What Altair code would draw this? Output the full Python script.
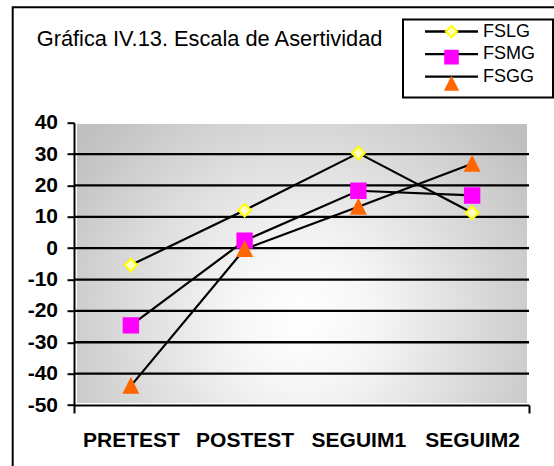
import altair as alt
import pandas as pd

# --- data -------------------------------------------------------------
etapas = ["PRETEST", "POSTEST", "SEGUIM1", "SEGUIM2"]
series = ["FSLG", "FSMG", "FSGG"]
fslg = [-5.4, 12.1, 30.3, 11.3]
fsmg = [-24.6, 2.4, 18.3, 16.8]
fsgg = [-43.9, -0.3, 13.2, 26.9]
valores_y = list(range(-50, 41, 10))
lineas_guia = [30, 20, 10, 0, -10, -20, -30, -40]
titulo = "Gráfica IV.13. Escala de Asertividad"

# marker styling per series
relleno = ["#ffffc4", "#ff00ff", "#ff6600"]
borde = ["#ffff00", "#ff00ff", "#ff6600"]
formas = [
    "M-0.8,0L0,-0.8L0.8,0L0,0.8Z",           # diamond
    "M-0.9,-0.9H0.9V0.9H-0.9Z",              # square
    "M-0.86,0.86L0,-0.86L0.86,0.86Z",        # triangle
]

filas = []
for nombre, vals in zip(series, [fslg, fsmg, fsgg]):
    for i, v in enumerate(vals):
        filas.append({"idx": i, "etapa": etapas[i], "valor": v,
                      "serie": nombre, "grupo": nombre})
df = pd.DataFrame(filas)

FUENTE = "Liberation Sans"
W, H = 455, 282.3
OX, OY = 74, 122.7  # plot origin inside the page

etiquetas_x = "[" + ",".join(f"'{e}'" for e in etapas) + "]"

x_enc = alt.X(
    "idx:Q",
    scale=alt.Scale(domain=[-0.5, len(etapas) - 0.5], nice=False, zero=False),
    axis=alt.Axis(
        title=None,
        values=[-0.5] + list(range(len(etapas))) + [len(etapas) - 0.5],
        labelExpr=f"datum.value % 1 == 0 ? {etiquetas_x}[datum.value] : ''",
        tickOpacity={"condition": {"test": "datum.value % 1 != 0", "value": 1}, "value": 0},
        labelFont=FUENTE, labelFontSize=21, labelFontWeight="bold", labelColor="black",
        labelPadding=16.5, labelFlush=False, labelOverlap=False, labelBound=False,
        tickSize=8, tickWidth=2, tickColor="black",
        domainColor="black", domainWidth=2, grid=False,
    ),
)
y_enc = alt.Y(
    "valor:Q",
    scale=alt.Scale(domain=[-50, 40], nice=False, zero=False),
    axis=alt.Axis(
        title=None, values=valores_y, labelExpr="datum.value + ''",
        labelOverlap=False, labelFlush=False, labelBound=False,
        labelFont=FUENTE, labelFontSize=21, labelFontWeight="bold", labelColor="black",
        labelPadding=9.5, tickSize=7, tickWidth=2, tickColor="black",
        domainColor="black", domainWidth=2, grid=False,
    ),
)

uno = pd.DataFrame({"k": [0]})

# chart-area frame
marco = alt.Chart(uno).mark_rect(filled=False, stroke="black", strokeWidth=2).encode(
    x=alt.value(12.7 - OX), x2=alt.value(600 - OX),
    y=alt.value(7.3 - OY), y2=alt.value(520 - OY),
)

# shaded plot area
fondo = alt.Chart(uno).mark_rect(
    fill=alt.RadialGradient(
        gradient="radial",
        stops=[alt.GradientStop(color="#ffffff", offset=0),
               alt.GradientStop(color="#f6f6f6", offset=0.25),
               alt.GradientStop(color="#c0c0c0", offset=1)],
        x1=0.5, y1=0.62, r1=0, x2=0.5, y2=0.62, r2=0.62,
    )
).encode(x=alt.value(3), x2=alt.value(W - 2), y=alt.value(1.3), y2=alt.value(H - 2))

# horizontal guide lines share the value axis
guias = alt.Chart(pd.DataFrame({"valor": lineas_guia})).mark_rule(
    color="black", strokeWidth=2.3
).encode(y=y_enc)

PAD = 3
FS_LEY = 18
ROW_PAD = 4.6
L_X, L_Y = 403 - OX, 19.5 - OY
SYM_OFF = 451.5 - 403 - PAD - FS_LEY / 2
LAB_OFF = 483 - 403 - PAD - FS_LEY - SYM_OFF

# legend entries: black connecting line with the series name
leyenda_lineas = alt.Legend(
    title=None, orient="none", legendX=L_X, legendY=L_Y, padding=PAD,
    symbolType="M-5.3,0H5.3", symbolSize=100, symbolStrokeWidth=2.3,
    symbolStrokeColor="black", symbolFillColor="transparent",
    symbolOffset=SYM_OFF, labelOffset=LAB_OFF, rowPadding=ROW_PAD,
    labelFont=FUENTE, labelFontSize=FS_LEY, labelColor="black",
)
lineas = alt.Chart(df).mark_line(strokeWidth=2.2).encode(
    x=x_enc, y=y_enc,
    color=alt.Color("grupo:N", scale=alt.Scale(domain=series, range=["black"] * 3),
                    legend=leyenda_lineas),
    order="idx:Q",
)

# legend entries: marker drawn over the line, plus the framed box
leyenda_puntos = alt.Legend(
    title=None, orient="none", legendX=L_X, legendY=L_Y, padding=PAD,
    symbolSize=196, symbolStrokeWidth=2, symbolOffset=SYM_OFF,
    labelExpr="''",
    labelOffset=552.7 - 403 - 2 * PAD - FS_LEY - SYM_OFF, rowPadding=ROW_PAD,
    labelFont=FUENTE, labelFontSize=FS_LEY,
    strokeColor="black", zindex=1,
)
puntos = alt.Chart(df).mark_point(filled=True, size=256, strokeWidth=2, opacity=1).encode(
    x=x_enc, y=y_enc,
    shape=alt.Shape("serie:N", scale=alt.Scale(domain=series, range=formas), legend=leyenda_puntos),
    fill=alt.Fill("serie:N", scale=alt.Scale(domain=series, range=relleno), legend=leyenda_puntos),
    stroke=alt.Stroke("serie:N", scale=alt.Scale(domain=series, range=borde), legend=leyenda_puntos),
)

texto_titulo = alt.Chart(uno).mark_text(
    align="left", baseline="alphabetic", font=FUENTE, fontSize=21.8, color="black"
).encode(x=alt.value(36.7 - OX), y=alt.value(45.7 - OY), text=alt.value(titulo))

chart = alt.layer(marco, fondo, guias, lineas, puntos, texto_titulo).resolve_legend(
    color="independent"
).properties(
    width=W, height=H,
    autosize=alt.AutoSizeParams(type="none"),
    padding={"left": OX, "top": OY, "right": 554 - OX - W, "bottom": 466 - OY - H},
    background="white",
).configure_view(stroke=None).configure_legend(strokeWidth=2)

chart.save("out.html", embed_options={"renderer": "svg", "actions": False})
